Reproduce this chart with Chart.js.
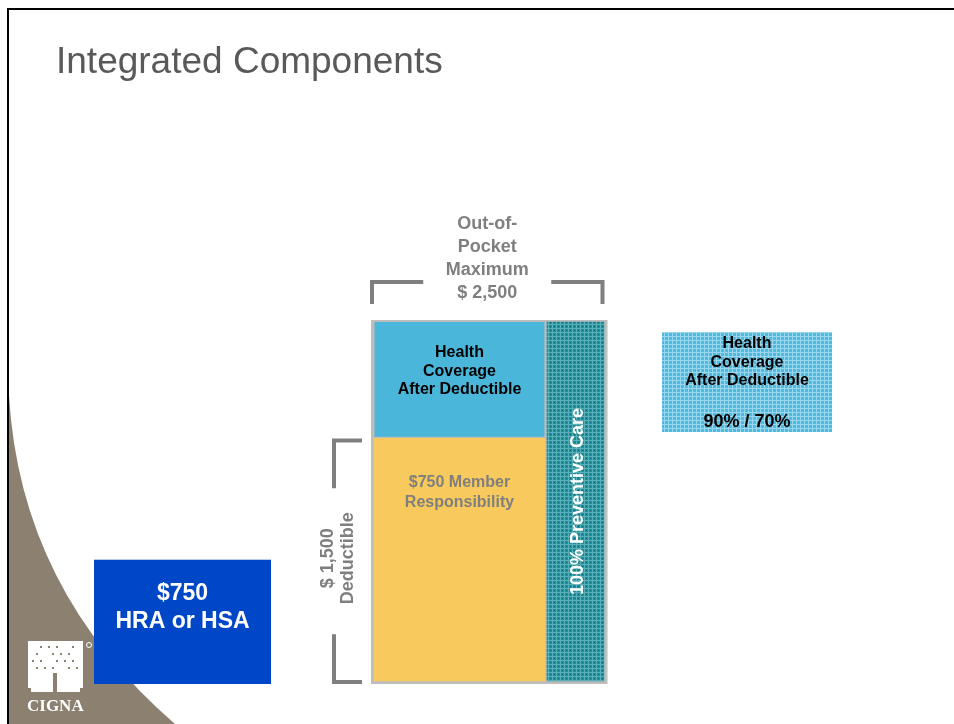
<!DOCTYPE html>
<html>
<head>
<meta charset="utf-8">
<title>Integrated Components</title>
<script src="https://cdn.jsdelivr.net/npm/chart.js@4.4.1/dist/chart.umd.min.js"></script>
<style>
    html, body { margin: 0; padding: 0; background: #fff; }
    #slide { position: relative; width: 954px; height: 724px; overflow: hidden; }
    #slide canvas { position: absolute; left: 0; top: 0; }
    #title {
        position: absolute; left: 56px; top: 42px;
        font: 37px/37px "Liberation Sans", Arial, sans-serif;
        color: #595959; white-space: nowrap;
    }
</style>
</head>
<body>
<div id="slide">
    <canvas id="plan-chart" width="954" height="724"></canvas>
    <div id="title">Integrated Components</div>
</div>
<script>
const FONT = '"Liberation Sans", Arial, sans-serif';

// Plan columns and dollar amounts
const columns = ['Member plan', 'Preventive care'];
const deductibleValues = [1500, null];
const coverageValues = [720, null];
const preventiveValues = [null, 2220];
const hraAmount = 750;

// Text blocks
const coverageLines = ['Health', 'Coverage', 'After Deductible'];
const memberLines = ['$750 Member', 'Responsibility'];
const preventiveLabel = '100% Preventive Care';
const deductibleLines = ['$ 1,500', 'Deductible'];
const oopLines = ['Out-of-', 'Pocket', 'Maximum', '$ 2,500'];
const hraLines = ['$750', 'HRA or HSA'];
const keyLines = ['Health', 'Coverage', 'After Deductible'];
const keyRate = '90% / 70%';

const COLORS = {
    deductible: '#f8c95c',
    coverage: '#4ab7da',
    frame: '#bdbdbd',
    bracket: '#7f7f7f',
    note: '#7f7f7f',
    hra: '#0047c8',
    swoosh: '#8c8071'
};

const canvas = document.getElementById('plan-chart');
const ctx = canvas.getContext('2d');

// small repeating grid texture
function makePattern(base, line, dot) {
    const tile = document.createElement('canvas');
    tile.width = 4;
    tile.height = 4;
    const g = tile.getContext('2d');
    g.fillStyle = base;
    g.fillRect(0, 0, 4, 4);
    g.fillStyle = line;
    g.fillRect(0, 0, 4, 1);
    g.fillRect(0, 0, 1, 4);
    if (dot) {
        g.fillStyle = dot;
        g.fillRect(2, 2, 1, 1);
    }
    return ctx.createPattern(tile, 'repeat');
}

const tealPattern = makePattern('#1f8e9b', '#58afb8', '#0d6c78');
const keyPattern = makePattern('#4fbadf', '#9ad6ec');

function drawLines(c, lines, x, y, step) {
    lines.forEach((text, i) => c.fillText(text, x, y + i * step));
}

function drawLogo(c) {
    c.fillStyle = '#fff';
    c.fillRect(28, 641, 55, 51);
    // speckles of the tree crown and the split trunk
    c.fillStyle = COLORS.swoosh;
    for (let row = 0; row < 4; row++) {
        for (let col = 0; col < 6; col++) {
            if ((row * 3 + col) % 4 === 0) continue;
            c.fillRect(32 + col * 8 + (row % 2) * 4, 646 + row * 7, 2, 2);
        }
    }
    c.fillRect(53, 673, 4, 19);
    c.fillRect(28, 688, 3, 4);
    c.fillRect(80, 688, 3, 4);
    c.strokeStyle = '#fff';
    c.lineWidth = 1;
    c.beginPath();
    c.arc(89, 645, 2.5, 0, Math.PI * 2);
    c.stroke();
    c.fillStyle = '#fff';
    c.font = 'bold 17px "Liberation Serif", "Times New Roman", serif';
    c.textAlign = 'left';
    c.fillText('CIGNA', 27, 711);
}

const slideBackground = {
    id: 'slideBackground',
    beforeDraw(chart) {
        const c = chart.ctx;
        c.save();
        c.fillStyle = '#fff';
        c.fillRect(0, 0, chart.width, chart.height);

        // taupe swoosh in the lower left corner
        c.fillStyle = COLORS.swoosh;
        c.beginPath();
        c.moveTo(9, 395);
        c.quadraticCurveTo(20, 590, 175, 724);
        c.lineTo(9, 724);
        c.closePath();
        c.fill();

        c.fillStyle = '#000';
        c.fillRect(7, 8, chart.width - 7, 2);
        c.fillRect(7, 8, 2, chart.height - 8);

        drawLogo(c);
        c.restore();
    }
};

function frameBox(chart) {
    const main = chart.getDatasetMeta(0).data[0];
    const prev = chart.getDatasetMeta(2).data[1];
    return {
        left: main.x - main.width / 2 - 3,
        right: prev.x + prev.width / 2 + 3.5,
        top: prev.y - 2,
        bottom: chart.scales.y.getPixelForValue(0) + 3
    };
}

const planFrame = {
    id: 'planFrame',
    beforeDatasetsDraw(chart) {
        const f = frameBox(chart);
        const c = chart.ctx;
        c.save();
        c.fillStyle = COLORS.frame;
        c.fillRect(f.left, f.top, f.right - f.left, f.bottom - f.top);
        c.restore();
    }
};

const planNotes = {
    id: 'planNotes',
    afterDatasetsDraw(chart) {
        const c = chart.ctx;
        const y = chart.scales.y;
        const f = frameBox(chart);
        const member = chart.getDatasetMeta(0).data[0];
        const coverage = chart.getDatasetMeta(1).data[0];
        const prev = chart.getDatasetMeta(2).data[1];

        c.save();
        c.textAlign = 'center';
        c.textBaseline = 'alphabetic';

        c.fillStyle = '#000';
        c.font = 'bold 16px ' + FONT;
        drawLines(c, coverageLines, coverage.x, coverage.y + 35, 18.5);

        c.fillStyle = COLORS.note;
        drawLines(c, memberLines, member.x, member.y + 49, 20);

        // rotated label in the preventive column
        c.save();
        c.translate(prev.x + 7.5, (prev.y + prev.base) / 2);
        c.rotate(-Math.PI / 2);
        c.fillStyle = '#fff';
        c.font = 'bold 18px ' + FONT;
        c.fillText(preventiveLabel, 0, 0);
        c.restore();

        c.strokeStyle = COLORS.bracket;
        c.lineWidth = 4;
        c.lineCap = 'butt';
        c.lineJoin = 'miter';

        // deductible bracket along the yellow segment
        const bx = f.left - 37;
        const bTop = y.getPixelForValue(deductibleValues[0]) + 2;
        const bBottom = y.getPixelForValue(0) + 1;
        const bMid = (bTop + bBottom) / 2;
        const serif = f.left - 9;
        c.beginPath();
        c.moveTo(serif, bTop);
        c.lineTo(bx, bTop);
        c.lineTo(bx, bMid - 73);
        c.moveTo(bx, bMid + 73);
        c.lineTo(bx, bBottom);
        c.lineTo(serif, bBottom);
        c.stroke();

        c.save();
        c.translate(bx, bMid - 3);
        c.rotate(-Math.PI / 2);
        c.fillStyle = COLORS.note;
        c.font = 'bold 18px ' + FONT;
        c.fillText(deductibleLines[0], 0, -1);
        c.fillText(deductibleLines[1], 0, 19);
        c.restore();

        // out-of-pocket bracket over the whole plan
        const oy = f.top - 38;
        const oLeft = f.left + 1;
        const oRight = f.right - 5;
        const oMid = (oLeft + oRight) / 2;
        const oLow = f.top - 16;
        c.beginPath();
        c.moveTo(oLeft, oLow);
        c.lineTo(oLeft, oy);
        c.lineTo(oMid - 64, oy);
        c.moveTo(oMid + 64, oy);
        c.lineTo(oRight, oy);
        c.lineTo(oRight, oLow);
        c.stroke();

        c.fillStyle = COLORS.note;
        c.font = 'bold 18px ' + FONT;
        drawLines(c, oopLines, oMid, oy - 53, 23);

        c.restore();
    },
    afterDraw(chart) {
        const c = chart.ctx;
        const y = chart.scales.y;
        c.save();
        c.textAlign = 'center';

        // account box sized by its dollar amount
        const hTop = y.getPixelForValue(hraAmount);
        const hBottom = y.getPixelForValue(0) + 3;
        c.fillStyle = COLORS.hra;
        c.fillRect(94, hTop, 177, hBottom - hTop);
        c.fillStyle = '#fff';
        c.font = 'bold 23px ' + FONT;
        drawLines(c, hraLines, 182.5, 600, 28);

        // coinsurance key on the right
        c.fillStyle = keyPattern;
        c.fillRect(662, 332, 170, 100);
        c.fillStyle = '#000';
        c.font = 'bold 16px ' + FONT;
        drawLines(c, keyLines, 747, 348, 18.5);
        c.font = 'bold 18px ' + FONT;
        c.fillText(keyRate, 747, 427);

        c.restore();
    }
};

const planChart = new Chart(ctx, {
    type: 'bar',
    data: {
        labels: columns,
        datasets: [
            {
                label: 'Member responsibility',
                data: deductibleValues,
                backgroundColor: COLORS.deductible,
                barThickness: 171,
                borderWidth: 0,
                clip: false
            },
            {
                label: 'Health coverage after deductible',
                data: coverageValues,
                backgroundColor: COLORS.coverage,
                barThickness: 170,
                borderColor: COLORS.frame,
                borderWidth: { top: 0, left: 0, right: 0, bottom: 2 },
                borderSkipped: false,
                clip: false
            },
            {
                label: 'Preventive care',
                data: preventiveValues,
                backgroundColor: tealPattern,
                barThickness: 57,
                borderWidth: 0,
                clip: false
            }
        ]
    },
    options: {
        responsive: false,
        animation: false,
        devicePixelRatio: 1,
        layout: {
            padding: { left: 401.5, right: 320.5, top: 322, bottom: 43 }
        },
        scales: {
            x: { display: false, stacked: true },
            y: { display: false, stacked: true, min: 0, max: 2220 }
        },
        plugins: {
            legend: { display: false },
            tooltip: { enabled: false }
        }
    },
    plugins: [slideBackground, planFrame, planNotes]
});
</script>
</body>
</html>
